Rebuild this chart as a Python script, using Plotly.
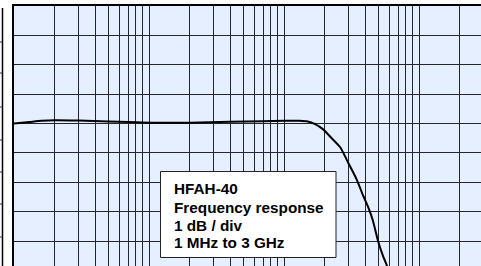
import plotly.graph_objects as go

# ---- data ----
freq_mhz = [1, 1.3, 1.6, 2, 3, 5, 10, 20, 40, 70, 100, 130, 150, 170, 195, 220, 260, 275,
            300, 345, 385, 420, 455, 497, 540, 580, 620]
gain_db = [0.0, 0.05, 0.09, 0.11, 0.10, 0.07, 0.03, 0.03, 0.06, 0.08, 0.09, 0.09, 0.07, -0.02,
           -0.2, -0.45, -0.8, -1.0, -1.35, -1.9, -2.45, -2.85, -3.3, -4.0, -4.5, -4.85, -5.2]

decades = [1, 10, 100, 1000]
digits = [1, 2, 3, 4, 5, 6, 7, 8, 9]
x_grid = [d * m for d in decades for m in digits if d * m <= 3000]

label_lines = ["HFAH-40", "Frequency response", "1 dB / div", "1 MHz to 3 GHz"]

# ---- figure geometry ----
W, H = 481, 266
L, T = 14, 6
pw, ph = W - L, H - T


def px(xp):
    return (xp - L) / pw


def py(yp):
    return (H - yp) / ph


fig = go.Figure()
fig.add_trace(go.Scatter(x=freq_mhz, y=gain_db, mode="lines",
                         line=dict(color="black", width=2, shape="spline", smoothing=0.6),
                         hoverinfo="skip", showlegend=False))

grid_col = "#23262e"
fig.update_xaxes(type="log", range=[0, 3.459], side="top",
                 tickmode="array", tickvals=x_grid, showticklabels=False, ticks="",
                 showgrid=True, gridcolor=grid_col, gridwidth=1,
                 showline=True, linecolor="black", linewidth=2, mirror=False, zeroline=False)
fig.update_yaxes(range=[-4.85, 4.0], tick0=0, dtick=1, showticklabels=False, ticks="",
                 showgrid=True, gridcolor=grid_col, gridwidth=1,
                 showline=True, linecolor="black", linewidth=2, mirror=False, zeroline=False)

shapes = []
# text box
shapes.append(dict(type="rect", xref="paper", yref="paper",
                   x0=px(160.5), x1=px(336), y0=py(257.5), y1=py(171.5),
                   fillcolor="white", line=dict(color="#222", width=1), layer="above"))
# fragment of neighbouring panel at the far left
shapes.append(dict(type="line", xref="paper", yref="paper",
                   x0=px(2.5), x1=px(2.5), y0=py(8), y1=py(266),
                   line=dict(color="black", width=1.5)))
for yy in [42, 73, 107, 140, 172, 204, 237]:
    shapes.append(dict(type="line", xref="paper", yref="paper",
                       x0=px(0), x1=px(2.5), y0=py(yy), y1=py(yy),
                       line=dict(color="#333", width=1)))

annotations = []
for i, (txt, yc) in enumerate(zip(label_lines, [188.5, 207, 225, 242.5])):
    annotations.append(dict(text=txt, xref="paper", yref="paper", x=px(172), y=py(yc),
                            xanchor="left", yanchor="middle", showarrow=False,
                            font=dict(family="Liberation Sans, Arial", size=15.3,
                                      color="black", weight="bold")))

fig.update_layout(width=W, height=H, margin=dict(l=L, r=0, t=T, b=0, pad=0),
                  paper_bgcolor="white", plot_bgcolor="#e6efff",
                  shapes=shapes, annotations=annotations, showlegend=False)

fig.write_html("out.html", config={"displayModeBar": False},
               post_script="document.body.style.margin='0';document.body.style.overflow='hidden';")
